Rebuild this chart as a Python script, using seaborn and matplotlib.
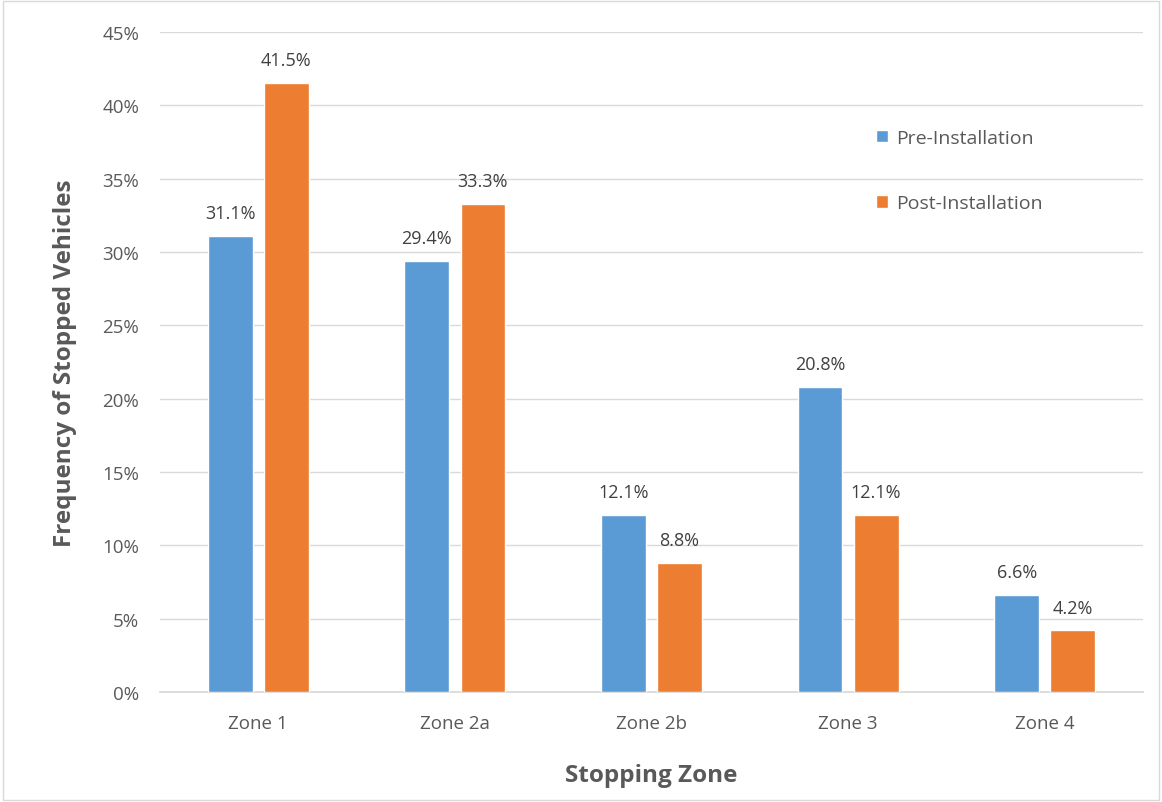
import pandas as pd
import numpy as np
import matplotlib
matplotlib.use('Agg')
import matplotlib.pyplot as plt
import seaborn as sns
from matplotlib.ticker import PercentFormatter

# data
zones = ['Zone 1', 'Zone 2a', 'Zone 2b', 'Zone 3', 'Zone 4']
pre_install = [31.1, 29.4, 12.1, 20.8, 6.6]
post_install = [41.5, 33.3, 8.8, 12.1, 4.2]
periods = ['Pre-Installation', 'Post-Installation']

df = pd.DataFrame({
    'Zone': zones * 2,
    'Period': [periods[0]] * len(zones) + [periods[1]] * len(zones),
    'Freq': pre_install + post_install,
})

sns.set_theme(style='white')
plt.rcParams['font.family'] = ['Open Sans', 'DejaVu Sans']
grey = '#595959'

fig = plt.figure(figsize=(11.62, 8.03), dpi=100)
ax = fig.add_axes([160/1162, 1 - 693/803, (1143-160)/1162, (693-33)/803])

sns.barplot(data=df, x='Zone', y='Freq', hue='Period', hue_order=periods,
            palette=['#5B9BD5', '#ED7D31'], width=0.57, gap=0.2,
            saturation=1, ax=ax, zorder=3)

for cont in ax.containers:
    ax.bar_label(cont, labels=[f'{v:.1f}%' for v in cont.datavalues],
                 padding=10, fontsize=13, color='#404040')

ax.set_ylim(0, 45)
ax.set_yticks(np.arange(0, 46, 5))
ax.yaxis.set_major_formatter(PercentFormatter(decimals=0))
ax.grid(axis='y', color='#D9D9D9', linewidth=1, zorder=0)
ax.set_axisbelow(True)
for s in ['top', 'right', 'left']:
    ax.spines[s].set_visible(False)
ax.spines['bottom'].set_color('#D9D9D9')
ax.tick_params(axis='both', colors=grey, labelsize=13.5, length=0)
ax.tick_params(axis='x', pad=16)
ax.tick_params(axis='y', pad=15)

ax.set_xlabel('Stopping Zone', fontsize=17.5, fontweight='bold', color=grey, labelpad=22)
ax.set_ylabel('Frequency of Stopped Vehicles', fontsize=17.5, fontweight='bold', color=grey, labelpad=18)

leg = ax.legend(loc='upper left', bbox_to_anchor=(0.711, 0.88), frameon=False,
                fontsize=14, labelspacing=2.45, handlelength=0.6, handleheight=0.6,
                handletextpad=0.4)
for t in leg.get_texts():
    t.set_color(grey)

# light border around the figure like the original export
fig.patches.append(plt.Rectangle((0.003, 0.003), 0.994, 0.994, transform=fig.transFigure,
                                 fill=False, edgecolor='#D9D9D9', linewidth=1))

fig.savefig('out.png', dpi=100)
